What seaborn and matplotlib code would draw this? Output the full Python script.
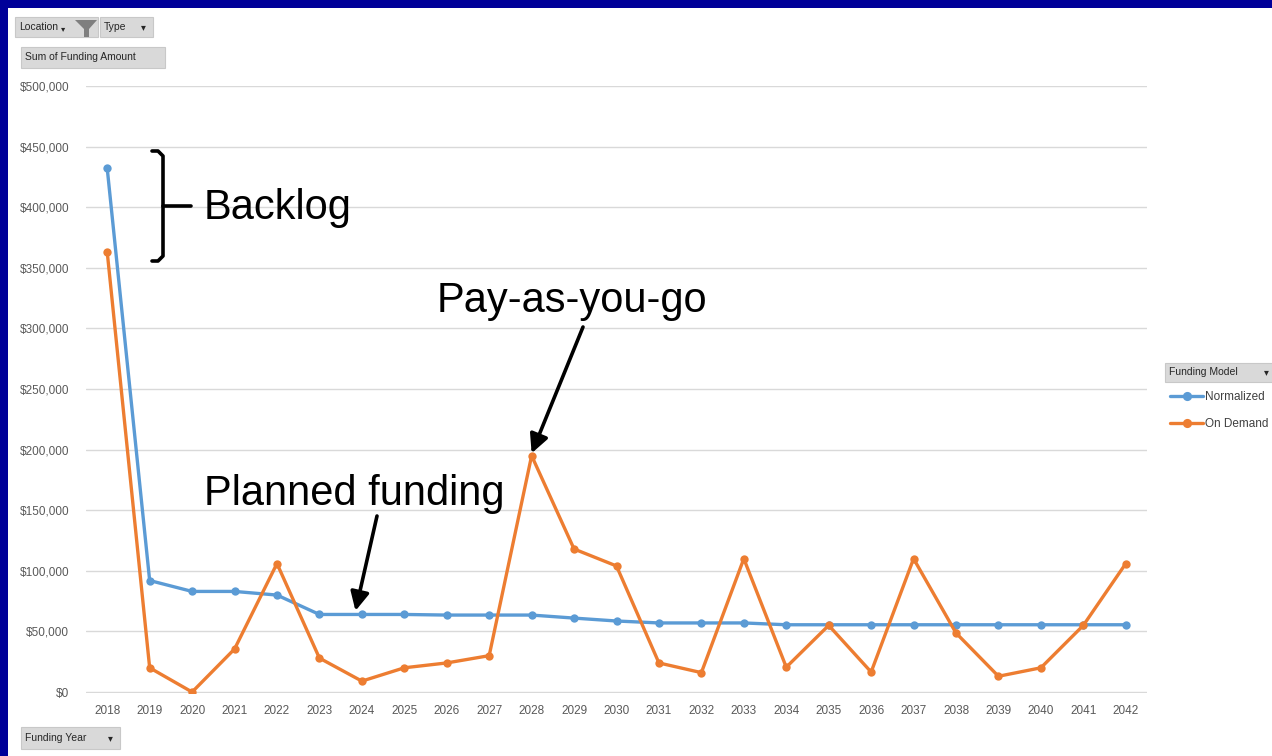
"""Pivot chart of funding amount per year, normalized vs on-demand model."""

import matplotlib
matplotlib.use("Agg")
import matplotlib.pyplot as plt
import numpy as np
import pandas as pd
import seaborn as sns
from matplotlib.lines import Line2D
from matplotlib.patches import Polygon, Rectangle
from matplotlib.ticker import FuncFormatter

years = list(range(2018, 2043))
normalized = [432000, 92000, 83000, 83000, 80000, 64000, 64000, 64000, 63500, 63500,
              63500, 61000, 58600, 57000, 57000, 57000, 55500, 55500, 55500, 55500,
              55500, 55500, 55500, 55500, 55500]
on_demand = [363000, 20000, 0, 35500, 106000, 28000, 9000, 20000, 24000, 30000,
             195000, 118000, 104000, 24000, 16000, 110000, 20500, 55000, 16500, 110000,
             48700, 13000, 20000, 55000, 106000]
model_names = ["Normalized", "On Demand"]
model_colors = ["#5B9BD5", "#ED7D31"]
y_ticks = list(range(0, 500001, 50000))

W, H = 1272, 756
TICK_GREY = "#595959"

sns.set_theme(style="white")
plt.rcParams["font.family"] = ["Liberation Sans", "DejaVu Sans"]

frame = pd.DataFrame({
    "year": years * 2,
    "amount": normalized + on_demand,
    "model": [model_names[0]] * len(years) + [model_names[1]] * len(years),
})

fig = plt.figure(figsize=(W / 100, H / 100), dpi=100)
fig.patch.set_facecolor("#000099")
fig.add_artist(Rectangle((8 / W, 0), 1, (H - 8) / H, transform=fig.transFigure,
                         facecolor="white", edgecolor="none", zorder=-10))


def fx(x):
    return x / W


def fy(y):
    return 1 - y / H


ax = fig.add_axes([fx(86), fy(693), fx(1147) - fx(86), fy(86) - fy(693)])
ax.set_facecolor("none")

sns.lineplot(data=frame, x="year", y="amount", hue="model", hue_order=model_names,
             palette=model_colors, marker="o", markersize=6, markeredgewidth=0,
             linewidth=2.4, legend=False, ax=ax)

ax.set_xlim(years[0] - 0.5, years[-1] + 0.5)
ax.set_ylim(-800, 500000)
ax.set_xticks(years)
ax.set_yticks(y_ticks)
ax.yaxis.set_major_formatter(FuncFormatter(lambda v, _: f"${v:,.0f}"))
ax.tick_params(axis="both", length=0, labelsize=8.5, labelcolor=TICK_GREY)
ax.tick_params(axis="y", pad=12)
ax.tick_params(axis="x", pad=9)
ax.set_xlabel("")
ax.set_ylabel("")
ax.yaxis.grid(True, color="#d9d9d9", linewidth=1.0)
ax.set_axisbelow(True)
for spine in ax.spines.values():
    spine.set_visible(False)

# legend placed to the right, cut by the figure edge like the original
ax.legend(ax.lines[:2], model_names, loc="upper left", frameon=False,
          bbox_to_anchor=(fx(1170), fy(391)), bbox_transform=fig.transFigure,
          borderpad=0, borderaxespad=0, markerscale=1.1,
          handlelength=2.8, handletextpad=0.15, labelspacing=1.25,
          fontsize=8.5, labelcolor="#404040")


def button(x0, y0, x1, y1, label, arrow_x=None):
    fig.add_artist(Rectangle((fx(x0), fy(y1)), fx(x1) - fx(x0), fy(y0) - fy(y1),
                             transform=fig.transFigure, facecolor="#d9d9d9",
                             edgecolor="#c8c8c8", linewidth=0.8))
    fig.text(fx(x0 + 4), fy((y0 + y1) / 2), label, fontsize=7.5, color="#262626",
             ha="left", va="center")
    if arrow_x is not None:
        fig.text(fx(arrow_x), fy((y0 + y1) / 2), "\u25be", fontsize=7, color="#262626",
                 ha="center", va="center", family="DejaVu Sans")


button(15, 17, 98, 37, "Location")
fig.text(fx(63), fy(29), "\u25be", fontsize=6, color="#262626", ha="center", va="center",
         family="DejaVu Sans")
fig.add_artist(Polygon([(fx(75), fy(20)), (fx(97), fy(20)), (fx(89), fy(29)),
                        (fx(89), fy(37)), (fx(84), fy(37)), (fx(84), fy(29))],
                       closed=True, transform=fig.transFigure, facecolor="#7f7f7f",
                       edgecolor="none"))
button(100, 17, 153, 37, "Type", arrow_x=143)
button(21, 47, 165, 68, "Sum of Funding Amount")
button(21, 727, 120, 749, "Funding Year", arrow_x=110)
button(1165, 363, 1290, 382, "Funding Model", arrow_x=1266)

# annotations
big = dict(fontsize=30, color="black", ha="left", va="baseline")
fig.text(fx(204), fy(219), "Backlog", **big)
fig.text(fx(437), fy(312), "Pay-as-you-go", **big)
fig.text(fx(204), fy(505), "Planned funding", **big)

bracket_x = [152, 158, 163, 163, 158, 152]
bracket_y = [151, 151, 156, 256, 261, 261]
fig.add_artist(Line2D([fx(v) for v in bracket_x], [fy(v) for v in bracket_y],
                      transform=fig.transFigure, color="black", linewidth=2.6,
                      solid_joinstyle="round"))
fig.add_artist(Line2D([fx(163), fx(191)], [fy(206), fy(206)],
                      transform=fig.transFigure, color="black", linewidth=2.6))

arrow_style = dict(arrowstyle="-|>", color="black", lw=2.6, mutation_scale=28,
                   shrinkA=0, shrinkB=0)
ax.annotate("", xy=(2028, 197000), xycoords="data",
            xytext=(583, H - 327), textcoords="figure pixels", arrowprops=arrow_style)
ax.annotate("", xy=(2023.85, 67000), xycoords="data",
            xytext=(377, H - 516), textcoords="figure pixels", arrowprops=arrow_style)

fig.savefig("out.png", dpi=100, facecolor=fig.get_facecolor())
plt.close(fig)
